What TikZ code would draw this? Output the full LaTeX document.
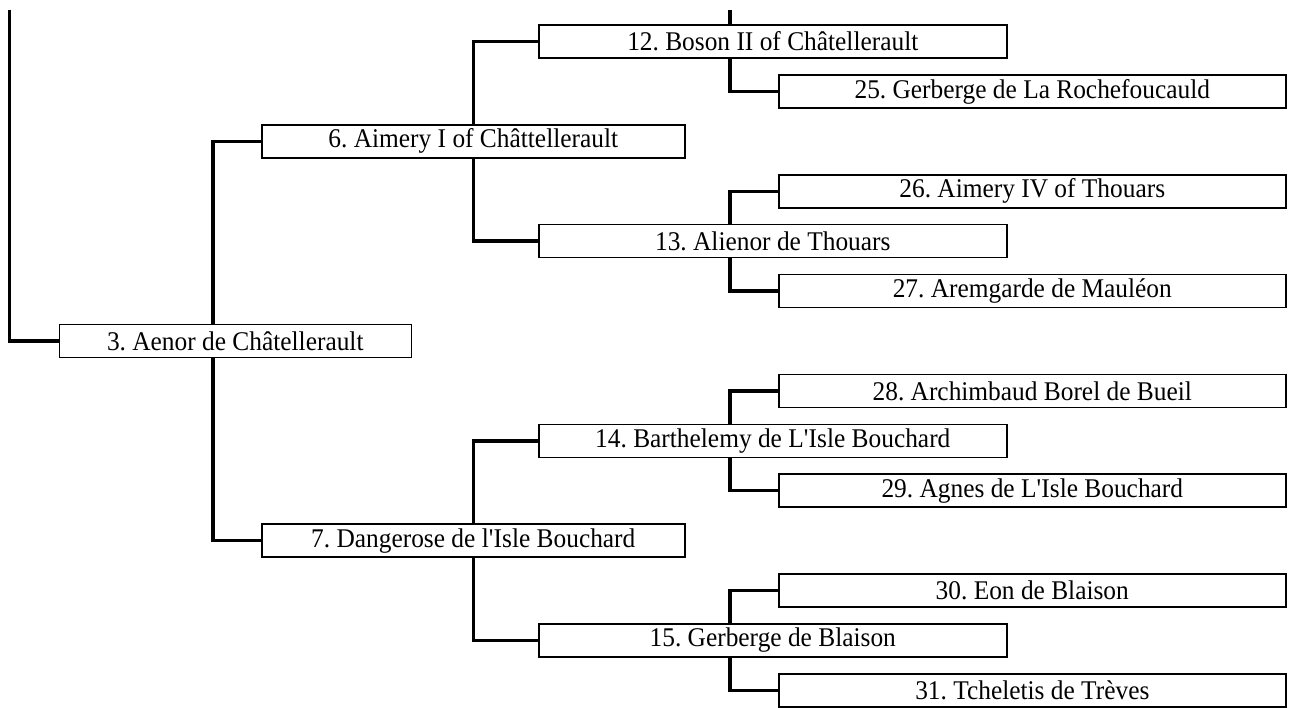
\documentclass[tikz,border=0pt]{standalone}
\usepackage{fontspec}
\setmainfont{Liberation Serif}[FakeStretch=0.94]
\usetikzlibrary{backgrounds}
\frenchspacing
\tikzset{
  box/.style={draw=black, line width=1.6pt, fill=white, inner sep=0pt, minimum height=33pt, anchor=west, font=\fontsize{27}{32}\selectfont},
  w3/.style={minimum width=352pt},
  wthree/.style={minimum width=423pt},
  wfour/.style={minimum width=468pt},
  wleaf/.style={minimum width=507pt},
  conn/.style={draw=black, line width=3.4pt, line join=miter}
}
\begin{document}
\begin{tikzpicture}[x=1pt,y=-1pt]
\useasboundingbox (0,0) rectangle (1293,708);
% generation 2
\node[box,w3] (n3) at (58.5,341) {3. Aenor de Châtellerault};
% generation 3
\node[box,wthree] (n6) at (261,141.4) {6. Aimery I of Châttellerault};
\node[box,wthree] (n7) at (261,540.6) {7. Dangerose de l\textquotesingle Isle Bouchard};
% generation 4
\node[box,wfour] (n12) at (538,41.6) {12. Boson II of Châtellerault};
\node[box,wfour] (n13) at (538,241.2) {13. Alienor de Thouars};
\node[box,wfour] (n14) at (538,440.8) {14. Barthelemy de L\textquotesingle Isle Bouchard};
\node[box,wfour] (n15) at (538,640.4) {15. Gerberge de Blaison};
% generation 5
\node[box,wleaf] (n25) at (778,91.5) {25. Gerberge de La Rochefoucauld};
\node[box,wleaf] (n26) at (778,191.3) {26. Aimery IV of Thouars};
\node[box,wleaf] (n27) at (778,291.1) {27. Aremgarde de Mauléon};
\node[box,wleaf] (n28) at (778,390.9) {28. Archimbaud Borel de Bueil};
\node[box,wleaf] (n29) at (778,490.7) {29. Agnes de L\textquotesingle Isle Bouchard};
\node[box,wleaf] (n30) at (778,590.5) {30. Eon de Blaison};
\node[box,wleaf] (n31) at (778,690.3) {31. Tcheletis de Trèves};
% branch points
\coordinate (t2) at (9.5,10);
\coordinate (b3) at (213,341);
\coordinate (t12) at (730,10);
\coordinate (b13) at (730,241.2);
\coordinate (b14) at (730,440.8);
\coordinate (b15) at (730,640.4);
\begin{scope}[on background layer]
  \draw[conn] (t2) |- (n3.west);
  \draw[conn] (n6.west) -| (b3) |- (n7.west);
  \draw[conn] (n12.west) -| (n6.center) |- (n13.west);
  \draw[conn] (n14.west) -| (n7.center) |- (n15.west);
  \draw[conn] (t12) |- (n25.west);
  \draw[conn] (n26.west) -| (b13) |- (n27.west);
  \draw[conn] (n28.west) -| (b14) |- (n29.west);
  \draw[conn] (n30.west) -| (b15) |- (n31.west);
\end{scope}
\end{tikzpicture}
\end{document}
